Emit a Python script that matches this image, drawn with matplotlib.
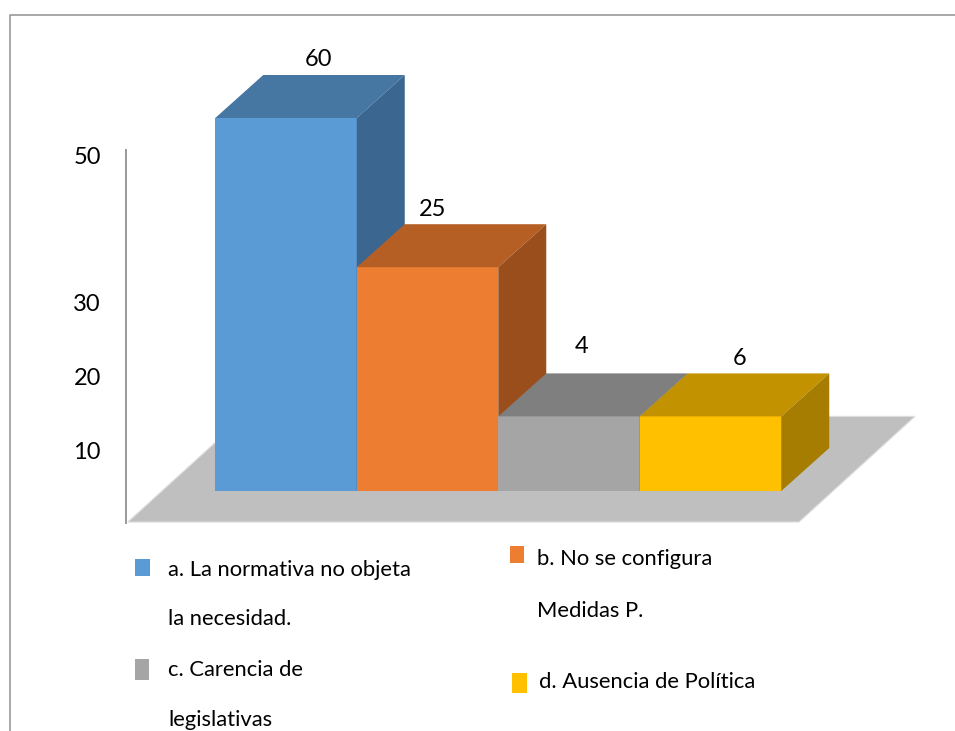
#!/usr/bin/env python
import matplotlib
matplotlib.use("Agg")
import matplotlib.pyplot as plt
from matplotlib.lines import Line2D
from matplotlib.patches import Polygon, Rectangle

plt.rcParams['font.family'] = ['Lato', 'DejaVu Sans']

W, H = 955, 731

# --- data ---
# drawn height of each block (read against the axis) and the label printed above it
heights = [50, 30, 10, 10]
labels = [60, 25, 4, 6]
axis_ticks = [10, 20, 30, 50]

front_colors = ['#5B9BD5', '#ED7D31', '#A5A5A5', '#FFC000']
top_colors = ['#4677A3', '#B65F25', '#7F7F7F', '#C29200']
side_colors = ['#3A668F', '#994E1C', '#6B6B6B', '#A67D00']

legend_lines = [["a. La normativa no objeta", "la necesidad."],
                ["b. No se configura", "Medidas P."],
                ["c. Carencia de", "legislativas"],
                ["d. Ausencia de Política"]]

# --- layout, in pixels ---
bar_w = 141.5
px_unit = 7.46
base_px = 491
x0_px = 286
depth_x = 48 / bar_w
depth_y = 43 / px_unit
label_dx = [8, -19, -11, 5]
label_dy = [15, 15, 27, 15]


def fx(px):
    return px / W


def fy(py):
    return 1 - py / H


fig = plt.figure(figsize=(W / 100, H / 100), dpi=100)
ax = fig.add_axes([0, 0, 1, 1])
ax.set_xlim(-x0_px / bar_w, (W - x0_px) / bar_w)
ax.set_ylim((base_px - H) / px_unit, base_px / px_unit)
ax.axis('off')

# floor
ax.add_patch(Polygon([(-1.118, -4.16), (3.625, -4.16), (4.445, 10), (-0.297, 10)],
                     closed=True, fc='#BFBFBF', ec='#DEDEDE', lw=0.8, zorder=1))

for i, h in enumerate(heights):
    left, right = i - 0.5, i + 0.5
    ax.bar(i, h, width=1, color=front_colors[i], zorder=3 + i)
    ax.add_patch(Polygon([(left, h), (right, h), (right + depth_x, h + depth_y), (left + depth_x, h + depth_y)],
                         closed=True, fc=top_colors[i], ec='none', zorder=3 + i))
    ax.add_patch(Polygon([(right, 0), (right, h), (right + depth_x, h + depth_y), (right + depth_x, depth_y)],
                         closed=True, fc=side_colors[i], ec='none', zorder=3 + i))
    ax.text(i + 0.5 * depth_x + label_dx[i] / bar_w, h + depth_y + label_dy[i] / px_unit, str(labels[i]),
            ha='center', va='center', fontsize=17, color='black', zorder=10)

# value axis
ax2 = fig.add_axes([fx(126), fy(523), 0.01, (523 - 150) / H])
ax2.patch.set_alpha(0)
ax2.set_ylim(0.2, 50.7)
ax2.set_xticks([])
ax2.set_yticks(axis_ticks)
ax2.tick_params(axis='y', length=0, pad=18, labelsize=17)
for s in ['top', 'right', 'bottom']:
    ax2.spines[s].set_visible(False)
ax2.spines['left'].set_color('#999999')
ax2.spines['left'].set_linewidth(1.4)

# outer frame, cut by the bottom and right of the picture
fig.add_artist(Line2D([fx(10), fx(10), 1], [0, fy(15), fy(15)], color='#999999', lw=1.2))

# legend
swatches = [(135, 559, 15, 17), (510, 546, 14, 17), (135, 659, 14, 21), (512, 673, 15, 20)]
text_pos = [(168, [570, 619]), (537, [559, 611]), (168, [670, 720]), (539, [682])]
for (sx, sy, sw, sh), c in zip(swatches, front_colors):
    fig.add_artist(Rectangle((fx(sx), fy(sy + sh)), sw / W, sh / H, fc=c, ec='none',
                             transform=fig.transFigure))
for (tx, tys), lines in zip(text_pos, legend_lines):
    for ty, s in zip(tys, lines):
        fig.text(fx(tx), fy(ty), s, ha='left', va='center', fontsize=15.8, color='black')

fig.savefig('out.png', dpi=100)
